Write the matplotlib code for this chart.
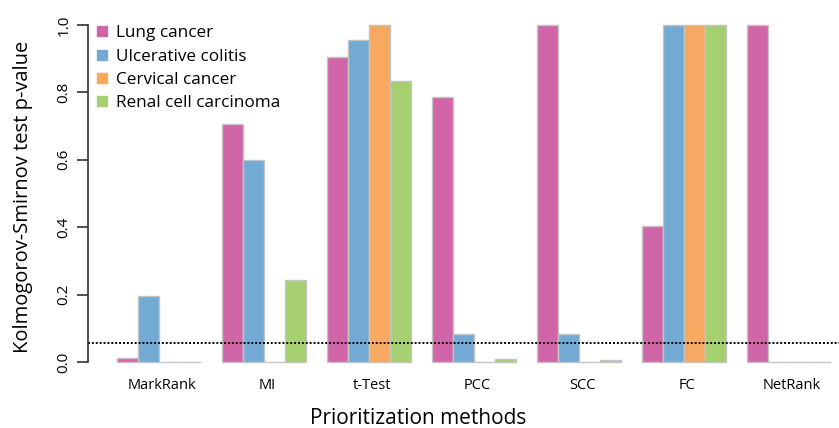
import matplotlib
matplotlib.use("Agg")
import matplotlib.pyplot as plt
from matplotlib.lines import Line2D
import numpy as np

plt.rcParams['font.family'] = ['Open Sans', 'DejaVu Sans']

methods = ['MarkRank', 'MI', 't-Test', 'PCC', 'SCC', 'FC', 'NetRank']
diseases = ['Lung cancer', 'Ulcerative colitis', 'Cervical cancer', 'Renal cell carcinoma']
lung = [0.012, 0.706, 0.905, 0.785, 1.0, 0.405, 1.0]
colitis = [0.196, 0.600, 0.955, 0.083, 0.083, 1.0, 0.0]
cervical = [0.0, 0.0, 1.0, 0.0, 0.0, 1.0, 0.0]
renal = [0.0, 0.243, 0.835, 0.010, 0.005, 1.0, 0.0]
threshold = 0.055

colors = ['#D066A8', '#72AAD3', '#F8A961', '#A6D06F']

fig = plt.figure(figsize=(8.39, 4.28), dpi=100)
ax = fig.add_axes([88 / 839, 52.5 / 428, 751 / 839, 364 / 428])

series = [lung, colitis, cervical, renal]
n = len(methods)
for j, (vals, col, name) in enumerate(zip(series, colors, diseases)):
    # R barplot(beside=TRUE) layout: each group = 4 bars + 1 space
    x = np.arange(n) * 5 + 1 + j + 0.5
    ax.bar(x, vals, width=1.0, color=col, edgecolor='#c4c4c4', linewidth=1.0, label=name)

centers = np.arange(n) * 5 + 3
ax.set_xticks(centers + 0.15)
ax.set_xticklabels(methods, fontsize=10.5)
ax.tick_params(axis='x', length=0, pad=2)

ax.axhline(threshold, color='black', linestyle=(0, (1, 1)), linewidth=1.4)

ax.set_xlim(-0.36, 35.38)
ax.set_ylim(-0.04, 1.04)
ax.set_yticks([0.0, 0.2, 0.4, 0.6, 0.8, 1.0])
ax.set_yticklabels(['0.0', '0.2', '0.4', '0.6', '0.8', '1.0'], rotation=90, va='center', fontsize=11)
ax.tick_params(axis='y', length=8, width=1.2, pad=4, color='#333333')

for s in ['top', 'right', 'bottom']:
    ax.spines[s].set_visible(False)
ax.spines['left'].set_bounds(0, 1)
ax.spines['left'].set_linewidth(1.2)
ax.spines['left'].set_color('#333333')

handles = [Line2D([], [], marker='s', linestyle='none', markersize=6.5, color=c) for c in colors]
ax.legend(handles, diseases, loc='upper left', bbox_to_anchor=(-0.002, 0.99), frameon=False,
          fontsize=12.3, handlelength=0.6, handletextpad=0.55, labelspacing=0.43, borderaxespad=0.2)

fig.text(23 / 839, 1 - 197 / 428, 'Kolmogorov-Smirnov test p-value', rotation=90,
         ha='center', va='center', fontsize=14.5)
fig.text(418 / 839, 1 - 418 / 428, 'Prioritization methods', ha='center', va='center', fontsize=15)

fig.savefig('out.png', dpi=100)
